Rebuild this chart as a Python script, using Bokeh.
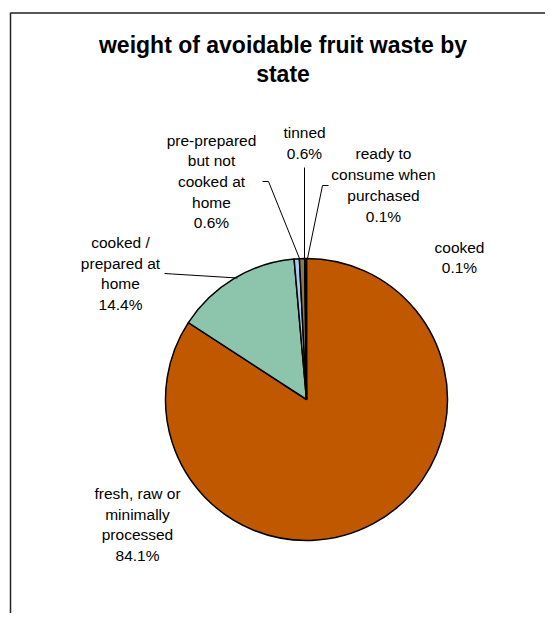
import numpy as np
from bokeh.plotting import figure
from bokeh.models import Range1d, ColumnDataSource
from bokeh.core.properties import value
from bokeh.embed import file_html
from bokeh.resources import INLINE

# ---- data ----
categories = ["fresh, raw or minimally processed", "cooked / prepared at home",
              "pre-prepared but not cooked at home", "tinned",
              "ready to consume when purchased", "cooked"]
label_lines = ["fresh, raw or\nminimally\nprocessed", "cooked /\nprepared at\nhome",
               "pre-prepared\nbut not\ncooked at\nhome", "tinned",
               "ready to\nconsume when\npurchased", "cooked"]
percentages = [84.1, 14.4, 0.6, 0.6, 0.1, 0.1]
title_text = "weight of avoidable fruit waste by\nstate"

# ---- styles / layout ----
slice_colors = ["#C05800", "#8CC4AC", "#A6CAF0", "#8C7853", "#1A1A1A", "#333333"]
W, H = 545, 613
PAGE = 617
def Y(s):
    return PAGE - s

center_x, center_y, radius = 306, 399, 141
label_x = [137, 120, 211, 304, 383, 459]
label_y = [524, 273, 181, 142.5, 184.5, 257]
leaders = [
    None,
    [(164, 273), (172, 273.5), (237, 277.5)],
    [(262, 181), (268, 181), (299, 258)],
    [(304, 167), (304, 258)],
    [(328, 185), (322, 185), (307, 258)],
    None,
]

p = figure(width=W, height=H, x_range=Range1d(0, W), y_range=Range1d(PAGE - H, PAGE),
           output_backend="svg", toolbar_location=None, min_border=0,
           x_axis_location=None, y_axis_location=None)
p.grid.visible = False
p.outline_line_color = None
p.background_fill_color = "white"
p.border_fill_color = "white"

# frame of the chart area
p.line([10, 10, 560], [Y(640), Y(12.5), Y(12.5)], line_color="#222222", line_width=1.5)

# pie
vals = np.array(percentages, dtype=float)
frac = vals / vals.sum()
cum_end = np.cumsum(frac)
cum_start = cum_end - frac
start_angle = np.pi / 2 - 2 * np.pi * cum_end
end_angle = np.pi / 2 - 2 * np.pi * cum_start
src = ColumnDataSource(dict(category=categories, pct=percentages,
                            start=start_angle, end=end_angle, color=slice_colors))
p.wedge(x=center_x, y=Y(center_y), radius=radius, start_angle="start", end_angle="end",
        fill_color="color", line_color="black", line_width=1.5, source=src)

# leader lines
xs, ys = [], []
for ld in leaders:
    if ld:
        xs.append([a for a, b in ld])
        ys.append([Y(b) for a, b in ld])
p.multi_line(xs, ys, line_color="black", line_width=1)

# labels
texts = [f"{t}\n{v:.1f}%" for t, v in zip(label_lines, percentages)]
p.text(x=label_x, y=[Y(v) for v in label_y], text=texts,
       text_font=value("Liberation Sans"), text_font_size="15.5px",
       text_align="center", text_baseline="middle", text_line_height=1.22,
       text_color="black")

# title
p.text(x=[282.5], y=[Y(59)], text=[title_text],
       text_font=value("Liberation Sans"), text_font_size="23px", text_font_style="bold",
       text_align="center", text_baseline="middle", text_line_height=1.1,
       text_color="black")

open("out.html", "w").write(file_html(p, INLINE))
